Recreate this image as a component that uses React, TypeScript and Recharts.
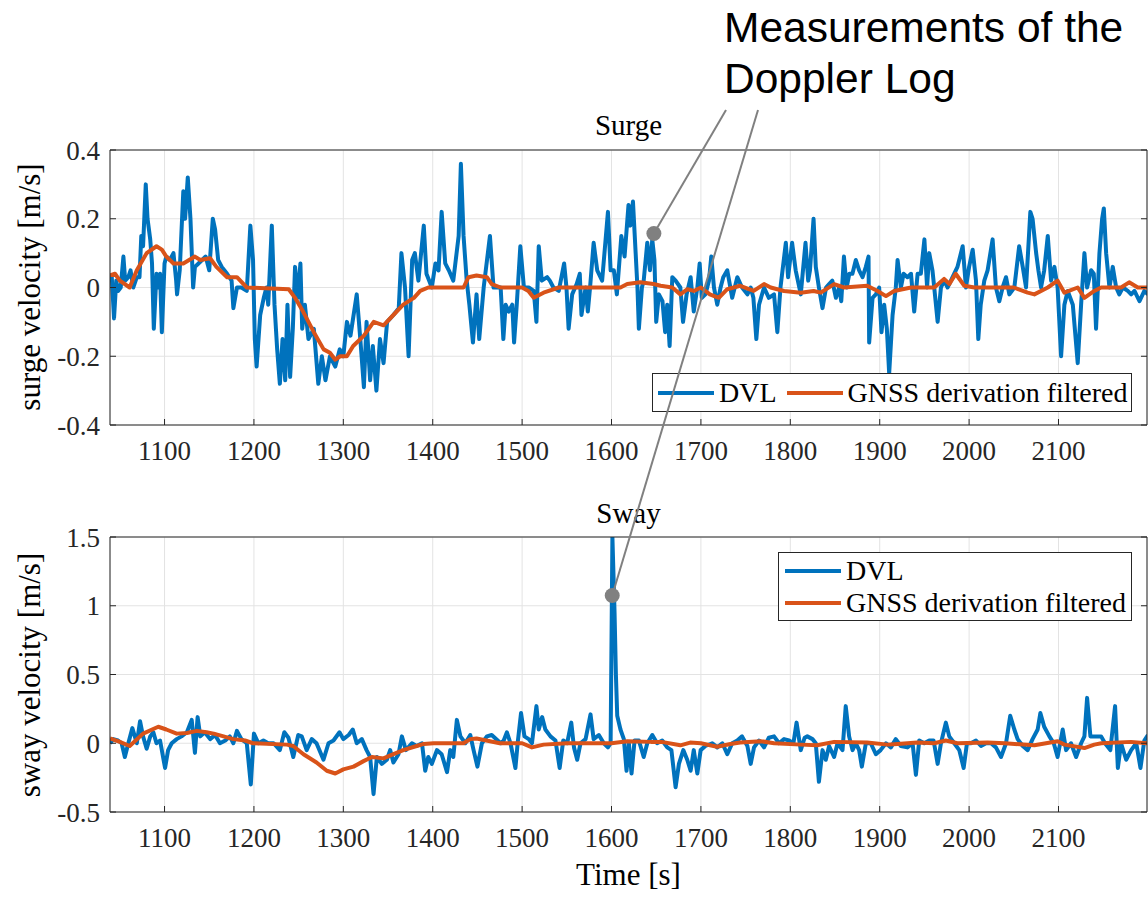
import React from 'react';
import { LineChart, Line, XAxis, YAxis, CartesianGrid, Legend, ReferenceDot } from 'recharts';

// ---- data ----
const timeTicks = [1100, 1200, 1300, 1400, 1500, 1600, 1700, 1800, 1900, 2000, 2100];
const timeDomain: [number, number] = [1039, 2199];
const surgeTicks = [-0.4, -0.2, 0, 0.2, 0.4];
const surgeDomain: [number, number] = [-0.4, 0.4];
const swayTicks = [-0.5, 0, 0.5, 1, 1.5];
const swayDomain: [number, number] = [-0.5, 1.5];
const seriesNames = ['DVL', 'GNSS derivation filtered'];
const annotationLines = ['Measurements of the', 'Doppler Log'];

// [time, value]
const surgeDvl: [number, number][] = [
  [1039, 0.03], [1041, 0.03], [1043.5, -0.09], [1046, 0.02], [1048, -0.01], [1051, 0], [1054, 0.09], [1056, 0.02],
  [1059.5, 0.03], [1062, 0.05], [1065, 0], [1069, 0.03], [1072, 0.03], [1074, 0.15], [1076, 0.12], [1079, 0.3],
  [1081, 0.2], [1084, 0.14], [1086, 0.07], [1088, -0.12], [1091, 0.04], [1093, 0], [1095, 0.04], [1097, -0.13],
  [1100, 0.07], [1102, 0.09], [1106, 0.08], [1110, 0.1], [1113, 0.02], [1114, -0.02], [1117, 0.05], [1121, 0.28],
  [1123, 0.2], [1126, 0.32], [1129, 0.2], [1132, 0], [1134, 0.06], [1138, 0.07], [1142, 0.08], [1146, 0.09],
  [1150, 0.05], [1154, 0.2], [1156.5, 0.17], [1160, 0.08], [1164, 0.06], [1170, 0.04], [1175, 0.02], [1177, -0.06],
  [1181, 0], [1186, 0], [1192, -0.01], [1196, 0.18], [1199, 0.08], [1201, -0.15], [1203, -0.23], [1207, -0.08],
  [1211, -0.03], [1214, 0], [1216, -0.05], [1220, 0.18], [1223, -0.05], [1226, -0.18], [1229, -0.28], [1232, -0.15],
  [1235, -0.27], [1237.5, -0.05], [1240.5, -0.26], [1243.5, -0.12], [1246, 0.06], [1249, -0.03], [1252, 0.07],
  [1254, -0.12], [1257, -0.05], [1261, -0.15], [1267, -0.12], [1272, -0.28], [1276, -0.2], [1280, -0.27],
  [1285, -0.2], [1291, -0.23], [1296, -0.18], [1300, -0.2], [1304, -0.1], [1308, -0.14], [1315, -0.02],
  [1319, -0.15], [1323, -0.29], [1326, -0.1], [1330, -0.27], [1333, -0.17], [1337, -0.3], [1341, -0.15],
  [1345, -0.22], [1349, -0.1], [1356, -0.08], [1362, -0.06], [1365, 0.1], [1369, 0], [1373, -0.2], [1377, 0.08],
  [1380, 0.1], [1384, 0.02], [1390, 0.18], [1393, 0.04], [1399, 0], [1403, 0.07], [1406.5, 0.05], [1410, 0.22],
  [1414, 0.07], [1418, 0.05], [1423, 0.02], [1429, 0.15], [1431.5, 0.36], [1434.5, 0.15], [1438, 0.02],
  [1441, -0.05], [1445, -0.16], [1449, -0.02], [1452, -0.15], [1457, 0], [1464, 0.15], [1468, 0], [1476, 0],
  [1479, -0.15], [1481.6, -0.05], [1485, -0.07], [1489, -0.05], [1491, -0.16], [1494, -0.05], [1498, 0.12],
  [1502, 0], [1507.4, 0], [1513, -0.01], [1516, -0.1], [1518.6, 0.12], [1522, 0.02], [1528, 0.03], [1531, 0.02],
  [1535, 0], [1541, -0.01], [1547, 0.07], [1549.6, 0], [1552, -0.12], [1556, -0.02], [1561, 0.01], [1564.5, 0.04],
  [1566.4, -0.08], [1571, 0], [1573.5, -0.07], [1576, 0], [1580, 0.13], [1584, 0.05], [1589.5, 0.02], [1596, 0.22],
  [1599, 0.05], [1602.6, 0.05], [1606, -0.02], [1611, 0.15], [1614.6, 0.09], [1619, 0.24], [1621, 0.18],
  [1624, 0.25], [1627, 0.1], [1629, 0], [1630.6, -0.12], [1634, 0], [1636, 0.02], [1640, 0.13], [1643, 0.05],
  [1645.6, 0.14], [1648, 0.08], [1650, -0.1], [1653, -0.02], [1657, -0.04], [1660, -0.13], [1662.3, -0.05],
  [1665, -0.17], [1668, 0.03], [1671.7, 0.02], [1677, 0], [1680, -0.1], [1684, -0.02], [1688.5, 0.03],
  [1692, -0.07], [1696, 0], [1698.6, 0.07], [1701, -0.03], [1705, -0.02], [1709, 0.02], [1711.6, 0.09],
  [1714.6, 0], [1718.3, -0.05], [1722, 0], [1725, 0.03], [1729.5, 0.05], [1735, -0.03], [1740.7, 0.03], [1746, 0],
  [1752, -0.02], [1755.7, 0], [1758.7, -0.03], [1762, -0.15], [1765, -0.05], [1770.6, 0], [1776, -0.03],
  [1781.8, -0.02], [1785.5, -0.13], [1789, 0], [1795, 0.13], [1797.5, 0.03], [1802, 0.13], [1806, 0.05],
  [1811.7, -0.02], [1817, 0.13], [1820, 0.02], [1822, 0.05], [1826, 0.2], [1828.5, 0.06], [1832, 0], [1836, -0.06],
  [1840, 0], [1843.4, 0.01], [1847, 0.02], [1851, -0.03], [1854.6, 0], [1857, -0.04], [1860, 0.09], [1863, 0],
  [1866, 0.04], [1869.5, 0.04], [1873.3, 0.08], [1877, 0.05], [1880.8, 0.03], [1884.5, 0.06], [1887.5, 0.09],
  [1888.2, -0.16], [1892, -0.03], [1895.7, -0.02], [1899.4, 0], [1902, -0.13], [1905, -0.05], [1908, -0.12],
  [1910.6, -0.25], [1914.4, -0.08], [1918, 0], [1920, 0.08], [1923.7, 0], [1926.7, 0.04], [1931, 0.03],
  [1935, 0.04], [1938.6, -0.07], [1942.4, 0.04], [1946, 0.04], [1950, 0.14], [1953, 0], [1955.4, 0.1],
  [1959, 0.05], [1961, 0], [1964.8, -0.1], [1968.5, 0], [1972.2, 0.02], [1976, 0], [1981.5, 0.03], [1987, 0.06],
  [1992.8, 0.12], [1996.5, 0], [2000, 0.06], [2004, 0.11], [2007.7, 0.02], [2010.3, -0.15], [2013, -0.05],
  [2017, 0.02], [2020.7, 0.05], [2026.3, 0.14], [2030, 0], [2033.8, -0.04], [2037.5, 0], [2041.3, 0.03],
  [2045, -0.02], [2050.6, 0], [2056, 0.12], [2060, 0.06], [2063.7, 0], [2068.5, 0.22], [2071, 0.2], [2075, 0.1],
  [2077.5, 0.05], [2080.5, 0], [2084, 0.05], [2088, 0.15], [2091.7, 0.02], [2095.4, 0.06], [2099, 0],
  [2102.9, -0.2], [2106.6, -0.05], [2110.3, -0.01], [2116, -0.05], [2121.5, -0.22], [2125.3, -0.05], [2129, 0.1],
  [2132, 0], [2136.5, 0.05], [2139.5, 0.04], [2142, -0.12], [2145.8, 0.1], [2148.8, 0.2], [2150.7, 0.23],
  [2153.3, 0.1], [2157, 0], [2160.7, 0.06], [2164.5, 0], [2168, -0.02], [2172, 0], [2177.5, -0.01],
  [2181.3, -0.02], [2185, -0.01], [2190.6, -0.04], [2196, -0.01], [2200, -0.02],
];

const surgeGnss: [number, number][] = [
  [1039, 0.035], [1044.6, 0.04], [1050, 0.02], [1061, 0], [1069, 0.05], [1080, 0.1], [1091, 0.12], [1097, 0.11],
  [1102, 0.09], [1110, 0.07], [1121, 0.07], [1134, 0.09], [1140, 0.08], [1151, 0.085], [1158, 0.06], [1170, 0.03],
  [1181, 0.03], [1192, 0], [1239, -0.005], [1246, -0.03], [1255, -0.07], [1267, -0.13], [1278, -0.18],
  [1285, -0.19], [1291, -0.21], [1296.5, -0.2], [1304, -0.2], [1311, -0.17], [1323, -0.14], [1334, -0.1],
  [1345, -0.11], [1356, -0.08], [1367, -0.05], [1379, -0.03], [1386, -0.01], [1395, 0], [1434.5, 0],
  [1440, 0.03], [1449, 0.035], [1460.6, 0.03], [1466, 0.01], [1476, 0], [1500, 0], [1507, -0.01], [1513, -0.03],
  [1524, -0.015], [1541, 0], [1610, 0], [1617.6, 0.01], [1632, 0.015], [1647, 0.01], [1655, 0.005], [1668, 0],
  [1677, -0.02], [1685, -0.005], [1692, -0.01], [1700, 0], [1710, -0.02], [1720, -0.03], [1729.5, -0.005],
  [1744, 0.005], [1759, -0.01], [1770.6, 0.01], [1778, 0], [1793, -0.01], [1811.7, -0.015], [1826, -0.01],
  [1834, -0.015], [1849, 0.01], [1860, 0], [1886, 0.005], [1897.6, -0.01], [1907, -0.025], [1916.2, -0.01],
  [1935, 0], [1961, 0], [1972, 0.025], [1978, 0.01], [1985, 0.04], [1994.6, 0.005], [2006, 0], [2050, 0],
  [2065.5, -0.015], [2073, -0.02], [2088, 0], [2099, 0.02], [2106.6, -0.015], [2121.5, 0], [2129, -0.03],
  [2140, -0.01], [2147.7, 0], [2170, 0], [2179, 0.015], [2188.7, 0], [2200, 0],
];

const swayDvl: [number, number][] = [
  [1039, 0], [1042.7, 0.03], [1048, 0.02], [1052, 0], [1055.6, -0.1], [1059.5, 0], [1064, 0.11], [1069, 0],
  [1072.6, 0.16], [1076, 0.05], [1080, -0.04], [1084, 0.05], [1087.5, 0.08], [1091, 0], [1095, 0.02],
  [1100.6, -0.18], [1104, -0.05], [1108, 0], [1113.6, 0.03], [1119, 0.05], [1125, 0.08], [1130.4, 0.17],
  [1134, -0.07], [1137, 0.19], [1140, 0.05], [1145, 0.08], [1151, 0.03], [1156.5, 0.06], [1162, 0], [1168, 0.02],
  [1173, 0.05], [1177, 0], [1181, 0.09], [1186, 0.03], [1192, 0], [1196.5, -0.3], [1200, 0.07], [1205, 0],
  [1210.6, 0.02], [1216, 0], [1222, 0], [1229, -0.05], [1234, 0.08], [1238.6, 0.04], [1244, -0.1],
  [1249.6, 0.06], [1253.5, 0.05], [1259, -0.05], [1264.7, 0.03], [1270, 0], [1277.8, -0.12], [1283.4, 0],
  [1289, 0.02], [1295.7, 0.08], [1300, 0.03], [1306, 0.06], [1310.6, 0.1], [1315, 0], [1320.7, 0.03],
  [1326, -0.05], [1330, -0.1], [1333.8, -0.37], [1337.5, -0.1], [1343, -0.15], [1348.7, -0.12], [1352.4, -0.05],
  [1356, -0.14], [1361.7, -0.08], [1365.5, 0.05], [1370, -0.05], [1376.7, 0], [1382, -0.02], [1388, 0],
  [1391.6, -0.2], [1395, -0.1], [1399, -0.15], [1404.7, -0.05], [1410, -0.08], [1416, -0.21], [1419.6, -0.05],
  [1423, -0.1], [1427, 0.17], [1431, 0.05], [1436.5, 0], [1442, 0.06], [1445.7, -0.05], [1450, -0.17],
  [1455, 0], [1460.6, 0.05], [1466, 0.06], [1476, 0], [1479.4, 0.02], [1483, 0.08], [1487, 0], [1492.5, -0.18],
  [1495, 0], [1498.8, 0.22], [1502.6, 0.05], [1507.4, 0.03], [1511, 0], [1516, 0.27], [1518.6, 0.1],
  [1522.4, 0.19], [1526, 0.1], [1531.7, 0.05], [1537.3, 0.02], [1542, -0.18], [1546, 0.02], [1550.4, 0],
  [1555, 0.15], [1558, -0.03], [1561.6, -0.12], [1565.3, 0], [1571, 0.03], [1576.5, 0.21], [1580, 0.03],
  [1585.8, 0.06], [1591.4, 0], [1596, -0.03], [1599, 0], [1601, 1.5], [1603.4, 0.95], [1604.9, 0.5],
  [1606.4, 0.2], [1610, 0.1], [1613.8, 0.03], [1616.8, -0.2], [1619.4, 0], [1622.4, -0.22], [1625.8, 0.02],
  [1630.6, 0.02], [1636, -0.1], [1640, 0], [1645.6, 0.06], [1651, 0], [1656.7, 0.02], [1662.3, -0.03],
  [1667, -0.05], [1671.7, -0.32], [1675.4, -0.15], [1680.3, -0.05], [1684.7, -0.12], [1688.5, -0.2],
  [1692, -0.05], [1696, -0.22], [1699.7, -0.05], [1705, -0.02], [1712.7, 0], [1718.3, -0.03], [1724, 0],
  [1729.5, -0.08], [1735, 0], [1740.7, 0.02], [1746, 0.05], [1752, -0.02], [1755.7, -0.15], [1759.4, -0.03],
  [1765, 0.02], [1770.6, -0.03], [1776, 0.04], [1781.8, 0.05], [1787.4, 0], [1793, 0.03], [1798.6, 0.02],
  [1803.5, 0], [1807, 0.15], [1811.7, -0.05], [1816, 0.04], [1819, 0.05], [1824.8, 0.03], [1828.5, 0],
  [1832, -0.28], [1836, -0.05], [1839.7, -0.12], [1843.4, -0.02], [1849, -0.1], [1852.8, 0], [1858.4, -0.05],
  [1862, 0.27], [1865.8, 0.05], [1869.6, -0.05], [1873.3, 0], [1877, -0.05], [1880, -0.17], [1884.5, 0],
  [1890, 0], [1895.7, -0.08], [1901, -0.05], [1907, 0], [1912.5, -0.03], [1918, 0.03], [1923.7, -0.02],
  [1931, -0.03], [1936.8, 0], [1940.5, -0.23], [1944.2, 0.02], [1949.8, 0], [1955.4, 0.02], [1960.3, 0.02],
  [1964.8, -0.15], [1968.5, 0], [1974, 0.15], [1977.8, 0.05], [1983.4, 0], [1989, -0.05], [1993.9, -0.18],
  [1997.6, 0], [2002, 0], [2007.7, 0.02], [2013.3, -0.02], [2019, 0], [2024.5, 0], [2030, -0.03], [2035.7, -0.1],
  [2041.3, 0], [2046, 0.2], [2050.6, 0.1], [2054.3, 0.03], [2060, -0.02], [2065.5, -0.05], [2071, 0.03],
  [2076.7, 0.1], [2079.7, 0.22], [2084, 0.12], [2089.8, 0.05], [2094.7, 0], [2099, -0.1], [2104.7, 0.1],
  [2108.5, -0.05], [2114, 0], [2119.7, -0.1], [2125.3, 0], [2129, 0.05], [2132, 0.33], [2135.7, 0.05],
  [2140.2, 0.05], [2147.7, 0.05], [2152, 0], [2158, -0.05], [2163.3, 0.27], [2166.4, -0.18], [2170, 0],
  [2175.7, -0.12], [2181.3, -0.05], [2187, 0], [2191.7, -0.18], [2196, 0.02], [2200, 0.06],
];

const swayGnss: [number, number][] = [
  [1039, 0.035], [1050, 0.01], [1061, -0.02], [1076, 0.07], [1093, 0.12], [1102, 0.1], [1113.6, 0.07],
  [1125, 0.075], [1136, 0.09], [1147, 0.08], [1155, 0.07], [1166, 0.05], [1177, 0.03], [1190, 0.02], [1199, 0],
  [1236.8, -0.01], [1244, -0.02], [1255.4, -0.08], [1270, -0.14], [1281.5, -0.2], [1291, -0.22], [1300, -0.19],
  [1311.4, -0.17], [1322.6, -0.13], [1332, -0.1], [1345, -0.11], [1352, -0.09], [1367, -0.05], [1382, -0.02],
  [1390, -0.005], [1401, 0], [1434.5, 0], [1442, 0.03], [1449, 0.035], [1460, 0.02], [1475, 0], [1500, 0],
  [1511, -0.03], [1524, -0.01], [1550, 0], [1600, 0], [1617.6, 0.015], [1644, 0.01], [1656, 0.01],
  [1677, -0.015], [1688, 0.005], [1700, 0], [1718, -0.025], [1733, -0.005], [1744, 0.005], [1767, 0.015],
  [1782, 0], [1811.7, -0.01], [1830, -0.015], [1849, 0.01], [1886, 0.005], [1908.8, -0.01], [1920, -0.005],
  [1942, 0.005], [1961, 0], [1974, 0.02], [1987, 0], [2020.7, 0.005], [2040, 0], [2073, -0.015], [2099, 0.015],
  [2106.6, -0.01], [2129, -0.035], [2140, -0.01], [2148, 0], [2181, 0.01], [2200, 0],
];

// annotated samples (time, value)
const surgeMark: [number, number] = [1647.4, 0.157];
const swayMark: [number, number] = [1600.8, 1.075];

// ---- look ----
const W = 1148;
const H = 897;
const SERIF = "'Liberation Serif', 'Times New Roman', serif";
const SANS = "'Liberation Sans', Arial, sans-serif";
const AX = '#262626';
const GRID = '#e3e3e3';
const BLUE = '#0072BD';
const ORANGE = '#D95319';
const MARK = '#808080';

const PLOT_L = 110;
const PLOT_R = 1147;
const TOP_PLOT = { top: 150, bottom: 425 };
const BOT_PLOT = { top: 537, bottom: 812 };

const rows = (pts: [number, number][]) => pts.map(([t, v]) => ({ t, v }));
const NoTick = () => <g />;

const pxX = (t: number) => PLOT_L + ((t - timeDomain[0]) / (timeDomain[1] - timeDomain[0])) * (PLOT_R - PLOT_L);
const pxY = (v: number, dom: [number, number], box: { top: number; bottom: number }) =>
  box.top + ((dom[1] - v) / (dom[1] - dom[0])) * (box.bottom - box.top);

const sample = (c: string, ml = 0): React.CSSProperties => ({
  display: 'inline-block',
  width: 56,
  height: 4,
  background: c,
  marginRight: 5,
  marginLeft: ml,
});

const TopLegend = () => (
  <div
    style={{
      boxSizing: 'border-box',
      width: 480,
      height: 39,
      border: `1px solid ${AX}`,
      background: '#fff',
      display: 'flex',
      alignItems: 'center',
      paddingLeft: 5,
      fontFamily: SERIF,
      fontSize: 28,
      color: '#000',
      whiteSpace: 'nowrap',
    }}
  >
    <span style={sample(BLUE)} />
    <span>{seriesNames[0]}</span>
    <span style={sample(ORANGE, 10)} />
    <span>{seriesNames[1]}</span>
  </div>
);

const SideLegend = () => (
  <div
    style={{
      boxSizing: 'border-box',
      width: 354,
      height: 69,
      border: `1px solid ${AX}`,
      background: '#fff',
      paddingTop: 2,
      paddingLeft: 6,
      fontFamily: SERIF,
      fontSize: 28,
      color: '#000',
      whiteSpace: 'nowrap',
    }}
  >
    {[BLUE, ORANGE].map((c, i) => (
      <div key={i} style={{ display: 'flex', alignItems: 'center', height: 32 }}>
        <span style={sample(c)} />
        <span>{seriesNames[i]}</span>
      </div>
    ))}
  </div>
);

type PanelProps = {
  top: number;
  height: number;
  marginTop: number;
  xAxisHeight: number;
  dvl: [number, number][];
  gnss: [number, number][];
  domain: [number, number];
  ticks: number[];
  mark: [number, number];
  legend: React.ReactNode;
  legendPos: { left: number; top: number };
};

const tickFont = { fill: AX, fontSize: 27, fontFamily: SERIF };

const Panel = (p: PanelProps) => (
  <div style={{ position: 'absolute', left: 0, top: p.top }}>
    <LineChart width={W} height={p.height} margin={{ top: p.marginTop, right: 0, bottom: 0, left: 0 }}>
      <CartesianGrid stroke={GRID} strokeWidth={1} />
      <XAxis
        dataKey="t"
        type="number"
        domain={timeDomain}
        ticks={timeTicks}
        allowDataOverflow
        interval={0}
        height={p.xAxisHeight}
        tickSize={-6}
        tickMargin={22}
        tick={tickFont}
        axisLine={{ stroke: AX }}
        tickLine={{ stroke: AX }}
      />
      <XAxis
        xAxisId="top"
        orientation="top"
        type="number"
        domain={timeDomain}
        ticks={timeTicks}
        allowDataOverflow
        interval={0}
        height={1}
        tickSize={-6}
        tick={NoTick}
        axisLine={{ stroke: AX }}
        tickLine={{ stroke: AX }}
      />
      <YAxis
        type="number"
        domain={p.domain}
        ticks={p.ticks}
        allowDataOverflow
        interval={0}
        width={PLOT_L}
        tickSize={-6}
        tickMargin={16}
        tickFormatter={(v: number) => String(v)}
        tick={tickFont}
        axisLine={{ stroke: AX }}
        tickLine={{ stroke: AX }}
      />
      <YAxis
        yAxisId="right"
        orientation="right"
        type="number"
        domain={p.domain}
        ticks={p.ticks}
        allowDataOverflow
        interval={0}
        width={1}
        tickSize={-6}
        tick={NoTick}
        axisLine={{ stroke: AX }}
        tickLine={{ stroke: AX }}
      />
      <Line
        data={rows(p.dvl)}
        dataKey="v"
        name={seriesNames[0]}
        stroke={BLUE}
        strokeWidth={4}
        strokeLinejoin="round"
        dot={false}
        activeDot={false}
        isAnimationActive={false}
      />
      <Line
        data={rows(p.gnss)}
        dataKey="v"
        name={seriesNames[1]}
        stroke={ORANGE}
        strokeWidth={4}
        strokeLinejoin="round"
        dot={false}
        activeDot={false}
        isAnimationActive={false}
      />
      <ReferenceDot x={p.mark[0]} y={p.mark[1]} r={7.5} fill={MARK} stroke="none" ifOverflow="visible" />
      <Legend
        layout="vertical"
        align="center"
        verticalAlign="middle"
        wrapperStyle={{ left: p.legendPos.left, top: p.legendPos.top, width: 'auto', height: 'auto' }}
        content={() => p.legend}
      />
    </LineChart>
  </div>
);

export default function App() {
  const topDot = { x: pxX(surgeMark[0]), y: pxY(surgeMark[1], surgeDomain, TOP_PLOT) };
  const botDot = { x: pxX(swayMark[0]), y: pxY(swayMark[1], swayDomain, BOT_PLOT) };
  const midX = (PLOT_L + PLOT_R) / 2;

  return (
    <div style={{ position: 'absolute', left: 0, top: 0, width: W, height: H, background: '#fff' }}>
      <Panel
        top={0}
        height={480}
        marginTop={149}
        xAxisHeight={55}
        dvl={surgeDvl}
        gnss={surgeGnss}
        domain={surgeDomain}
        ticks={surgeTicks}
        mark={surgeMark}
        legend={<TopLegend />}
        legendPos={{ left: 652, top: 373 }}
      />
      <Panel
        top={480}
        height={417}
        marginTop={56}
        xAxisHeight={85}
        dvl={swayDvl}
        gnss={swayGnss}
        domain={swayDomain}
        ticks={swayTicks}
        mark={swayMark}
        legend={<SideLegend />}
        legendPos={{ left: 778, top: 72 }}
      />

      {/* titles, axis labels and the callout */}
      <svg width={W} height={H} style={{ position: 'absolute', left: 0, top: 0, pointerEvents: 'none' }}>
        <g fontFamily={SERIF} fill="#000" textAnchor="middle">
          <text x={midX} y={135} fontSize={29}>Surge</text>
          <text x={midX} y={523} fontSize={29}>Sway</text>
          <text x={midX} y={885} fontSize={31}>Time [s]</text>
          <text x={40} y={287} fontSize={31} transform="rotate(-90 40 287)">surge velocity [m/s]</text>
          <text x={40} y={675} fontSize={31} transform="rotate(-90 40 675)">sway velocity [m/s]</text>
        </g>
        <line x1={726} y1={110} x2={topDot.x} y2={topDot.y} stroke={MARK} strokeWidth={2} />
        <line x1={758} y1={110} x2={botDot.x} y2={botDot.y} stroke={MARK} strokeWidth={2} />
        <g fontFamily={SANS} fontSize={42.5} fill="#000">
          <text x={724} y={42}>{annotationLines[0]}</text>
          <text x={724} y={93}>{annotationLines[1]}</text>
        </g>
      </svg>
    </div>
  );
}
